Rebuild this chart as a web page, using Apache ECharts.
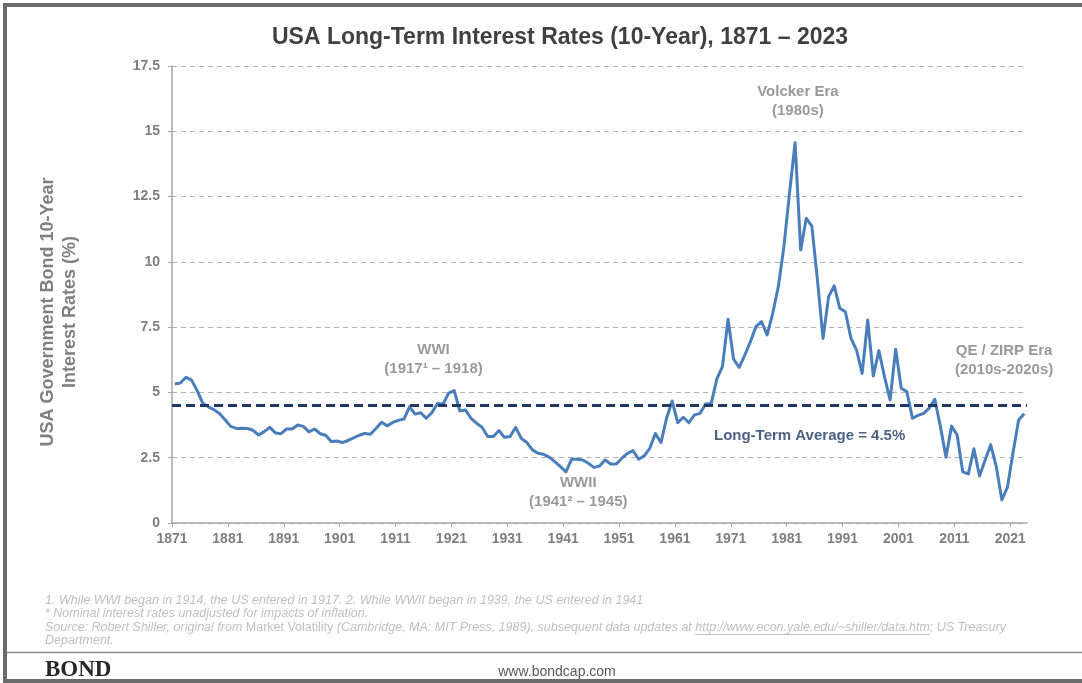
<!DOCTYPE html>
<html>
<head>
<meta charset="utf-8">
<title>USA Long-Term Interest Rates (10-Year), 1871 – 2023</title>
<script src="https://cdn.jsdelivr.net/npm/echarts@6/dist/echarts.min.js"></script>
<style>
  html, body { margin: 0; padding: 0; background: #fff; }
  #chart { width: 1082px; height: 683px; }
</style>
</head>
<body>
<div id="chart"></div>
<script>
// ---- data ----
const years = [
  1871, 1872, 1873, 1874, 1875, 1876, 1877, 1878, 1879, 1880,
  1881, 1882, 1883, 1884, 1885, 1886, 1887, 1888, 1889, 1890,
  1891, 1892, 1893, 1894, 1895, 1896, 1897, 1898, 1899, 1900,
  1901, 1902, 1903, 1904, 1905, 1906, 1907, 1908, 1909, 1910,
  1911, 1912, 1913, 1914, 1915, 1916, 1917, 1918, 1919, 1920,
  1921, 1922, 1923, 1924, 1925, 1926, 1927, 1928, 1929, 1930,
  1931, 1932, 1933, 1934, 1935, 1936, 1937, 1938, 1939, 1940,
  1941, 1942, 1943, 1944, 1945, 1946, 1947, 1948, 1949, 1950,
  1951, 1952, 1953, 1954, 1955, 1956, 1957, 1958, 1959, 1960,
  1961, 1962, 1963, 1964, 1965, 1966, 1967, 1968, 1969, 1970,
  1971, 1972, 1973, 1974, 1975, 1976, 1977, 1978, 1979, 1980,
  1981, 1982, 1983, 1984, 1985, 1986, 1987, 1988, 1989, 1990,
  1991, 1992, 1993, 1994, 1995, 1996, 1997, 1998, 1999, 2000,
  2001, 2002, 2003, 2004, 2005, 2006, 2007, 2008, 2009, 2010,
  2011, 2012, 2013, 2014, 2015, 2016, 2017, 2018, 2019, 2020,
  2021, 2022, 2023
];

// 10-year yield, % (one value per year)
const rates = [
  5.32, 5.36, 5.58, 5.47, 5.07, 4.59, 4.45, 4.34, 4.19, 3.95,
  3.70, 3.62, 3.63, 3.62, 3.55, 3.37, 3.50, 3.66, 3.45, 3.42,
  3.60, 3.60, 3.75, 3.70, 3.49, 3.60, 3.42, 3.36, 3.12, 3.14,
  3.08, 3.16, 3.26, 3.36, 3.43, 3.40, 3.62, 3.86, 3.72, 3.85,
  3.93, 3.98, 4.45, 4.17, 4.22, 4.01, 4.22, 4.58, 4.55, 4.97,
  5.07, 4.29, 4.33, 4.01, 3.82, 3.66, 3.31, 3.31, 3.54, 3.28,
  3.31, 3.66, 3.24, 3.08, 2.80, 2.67, 2.63, 2.52, 2.35, 2.16,
  1.96, 2.44, 2.44, 2.41, 2.29, 2.13, 2.18, 2.41, 2.26, 2.26,
  2.48, 2.67, 2.77, 2.44, 2.57, 2.86, 3.43, 3.08, 4.01, 4.67,
  3.84, 4.05, 3.84, 4.14, 4.20, 4.56, 4.58, 5.52, 5.99, 7.80,
  6.27, 5.96, 6.43, 6.94, 7.52, 7.71, 7.20, 8.03, 9.05, 10.58,
  12.63, 14.56, 10.45, 11.67, 11.37, 9.31, 7.07, 8.67, 9.08, 8.22,
  8.09, 7.07, 6.62, 5.73, 7.77, 5.63, 6.60, 5.60, 4.71, 6.65,
  5.16, 5.03, 4.01, 4.12, 4.20, 4.40, 4.74, 3.70, 2.52, 3.71,
  3.37, 1.96, 1.88, 2.84, 1.80, 2.40, 3.00, 2.16, 0.88, 1.37,
  2.70, 3.94, 4.18
];

const tickYears = [1871, 1881, 1891, 1901, 1911, 1921, 1931, 1941, 1951, 1961, 1971, 1981, 1991, 2001, 2011, 2021];
const longTermAverage = 4.5;

// ---- styling constants ----
const FONT = '"Liberation Sans", Arial, sans-serif';
const GREY = '#7f7f7f';
const NAVY = '#1f3864';
const LINE_BLUE = '#4a7ebb';

const firstYear = years[0];
// each year sits in the middle of its one-year slot, like the Excel category axis
const lineData = years.map((y, i) => [y - firstYear + 0.5, rates[i]]);
const tickOffsets = tickYears.map(y => y - firstYear);

// text notes, placed in data space (offset years, percent)
const notes = [
  { text: 'Volcker Era\n(1980s)', at: [112.0, 16.14] },
  { text: 'WWI\n(1917\u00b9 \u2013 1918)', at: [46.8, 6.28] },
  { text: 'WWII\n(1941\u00b2 \u2013 1945)', at: [72.7, 1.17] },
  { text: 'QE / ZIRP Era\n(2010s-2020s)', at: [148.9, 6.22] }
];

const chart = echarts.init(document.getElementById('chart'));

// footnote line 3 has an upright book title and an underlined link
const fnSize = 12.5;
const src1 = 'Source: Robert Shiller, original from ';
const src2 = 'Market Volatility';
const src3 = ' (Cambridge, MA: MIT Press, 1989), subsequent data updates at ';
const srcUrl = 'http://www.econ.yale.edu/~shiller/data.htm';
const src4 = '; US Treasury';
const ctx = document.createElement('canvas').getContext('2d');
const measure = (txt, style) => {
  ctx.font = style + ' ' + fnSize + 'px ' + FONT;
  return ctx.measureText(txt).width;
};
const fnLeft = 45;
const urlX0 = fnLeft + measure(src1, 'italic') + measure(src2, 'normal') + measure(src3, 'italic');
const urlX1 = urlX0 + measure(srcUrl, 'italic');

const fnStyle = (txt, y) => ({
  type: 'text', left: fnLeft, top: y, silent: true,
  style: { text: txt, font: 'italic ' + fnSize + 'px ' + FONT, fill: '#bfbfbf' }
});

const option = {
  animation: false,
  backgroundColor: '#fff',
  title: {
    text: 'USA Long-Term Interest Rates (10-Year), 1871 \u2013 2023',
    left: 555, top: 21, textAlign: 'center',
    textStyle: { fontFamily: FONT, fontSize: 23, fontWeight: 'bold', color: '#404040' }
  },
  grid: { left: 172, right: 55, top: 66, bottom: 160, containLabel: false },
  xAxis: {
    type: 'value',
    min: 0,
    max: years.length,
    axisLine: { show: true, lineStyle: { color: '#a6a6a6', width: 1.5 } },
    axisTick: { show: true, length: 4, customValues: tickOffsets, lineStyle: { color: '#a6a6a6' } },
    axisLabel: {
      customValues: tickOffsets,
      formatter: v => String(firstYear + v),
      margin: 9,
      fontFamily: FONT, fontSize: 14, fontWeight: 'bold', color: GREY
    },
    splitLine: { show: false }
  },
  yAxis: {
    type: 'value',
    min: 0, max: 17.5, interval: 2.5,
    axisLine: { show: true, lineStyle: { color: '#a6a6a6', width: 1.5 } },
    axisTick: { show: true, length: 4, lineStyle: { color: '#a6a6a6' } },
    axisLabel: { margin: 12, fontFamily: FONT, fontSize: 14, fontWeight: 'bold', color: GREY },
    splitLine: { show: true, lineStyle: { color: '#b3b3b3', width: 1, type: [5, 4] } }
  },
  series: [
    {
      name: 'Rate',
      type: 'line',
      data: lineData,
      symbol: 'none',
      lineStyle: { color: LINE_BLUE, width: 3, join: 'round' },
      markLine: {
        silent: true,
        symbol: 'none',
        lineStyle: { color: NAVY, width: 3, type: [9, 5] },
        label: { show: false },
        data: [{ yAxis: longTermAverage }]
      },
      z: 3
    },
    {
      // text notes
      type: 'scatter',
      silent: true,
      symbolSize: 1,
      itemStyle: { color: 'rgba(0,0,0,0)' },
      label: {
        show: true, position: 'inside',
        fontFamily: FONT, fontSize: 15, fontWeight: 'bold', color: GREY,
        lineHeight: 19, align: 'center',
        formatter: p => p.data.text
      },
      data: notes.map(n => ({ value: n.at, text: n.text })),
      z: 5
    },
    {
      // long-term average caption
      type: 'scatter',
      silent: true,
      symbolSize: 1,
      itemStyle: { color: 'rgba(0,0,0,0)' },
      label: {
        show: true, position: 'inside',
        fontFamily: FONT, fontSize: 15, fontWeight: 'bold', color: NAVY,
        formatter: () => 'Long-Term Average = ' + longTermAverage + '%'
      },
      data: [[114.1, 3.33]],
      z: 5
    }
  ],
  graphic: [
    // y axis title
    {
      type: 'text', x: 59, y: 312, rotation: Math.PI / 2, silent: true,
      style: {
        text: 'USA Government Bond 10-Year\nInterest Rates (%)',
        font: 'bold 18px ' + FONT, fill: GREY, align: 'center', verticalAlign: 'middle', lineHeight: 22
      }
    },
    // footnotes
    fnStyle('1. While WWI began in 1914, the US entered in 1917. 2. While WWII began in 1939, the US entered in 1941', 594),
    fnStyle('* Nominal interest rates unadjusted for impacts of inflation.', 607),
    {
      type: 'text', left: fnLeft, top: 621, silent: true,
      style: {
        text: '{i|' + src1 + '}{n|' + src2 + '}{i|' + src3 + srcUrl + src4 + '}',
        rich: {
          i: { font: 'italic ' + fnSize + 'px ' + FONT, fill: '#bfbfbf' },
          n: { font: 'normal ' + fnSize + 'px ' + FONT, fill: '#bfbfbf' }
        }
      }
    },
    {
      type: 'line', silent: true,
      shape: { x1: urlX0, y1: 634.5, x2: urlX1, y2: 634.5 },
      style: { stroke: '#bfbfbf', lineWidth: 1 }
    },
    fnStyle('Department.', 634),
    // frame
    { type: 'rect', silent: true, shape: { x: 3, y: 3, width: 1079, height: 4 }, style: { fill: '#6b6b6b' } },
    { type: 'rect', silent: true, shape: { x: 3, y: 3, width: 4, height: 680 }, style: { fill: '#6b6b6b' } },
    { type: 'rect', silent: true, shape: { x: 3, y: 679, width: 1079, height: 4 }, style: { fill: '#6b6b6b' } },
    {
      type: 'line', silent: true,
      shape: { x1: 7, y1: 652.5, x2: 1082, y2: 652.5 },
      style: { stroke: '#8c8c8c', lineWidth: 1.5 }
    },
    // footer
    {
      type: 'text', x: 45, y: 670.5, silent: true,
      style: { text: 'BOND', font: 'bold 23px "Liberation Serif", "Times New Roman", serif', fill: '#262626', verticalAlign: 'middle' }
    },
    {
      type: 'text', x: 557, y: 672, silent: true,
      style: { text: 'www.bondcap.com', font: '14px ' + FONT, fill: '#595959', align: 'center', verticalAlign: 'middle' }
    }
  ]
};

chart.setOption(option);
</script>
</body>
</html>
